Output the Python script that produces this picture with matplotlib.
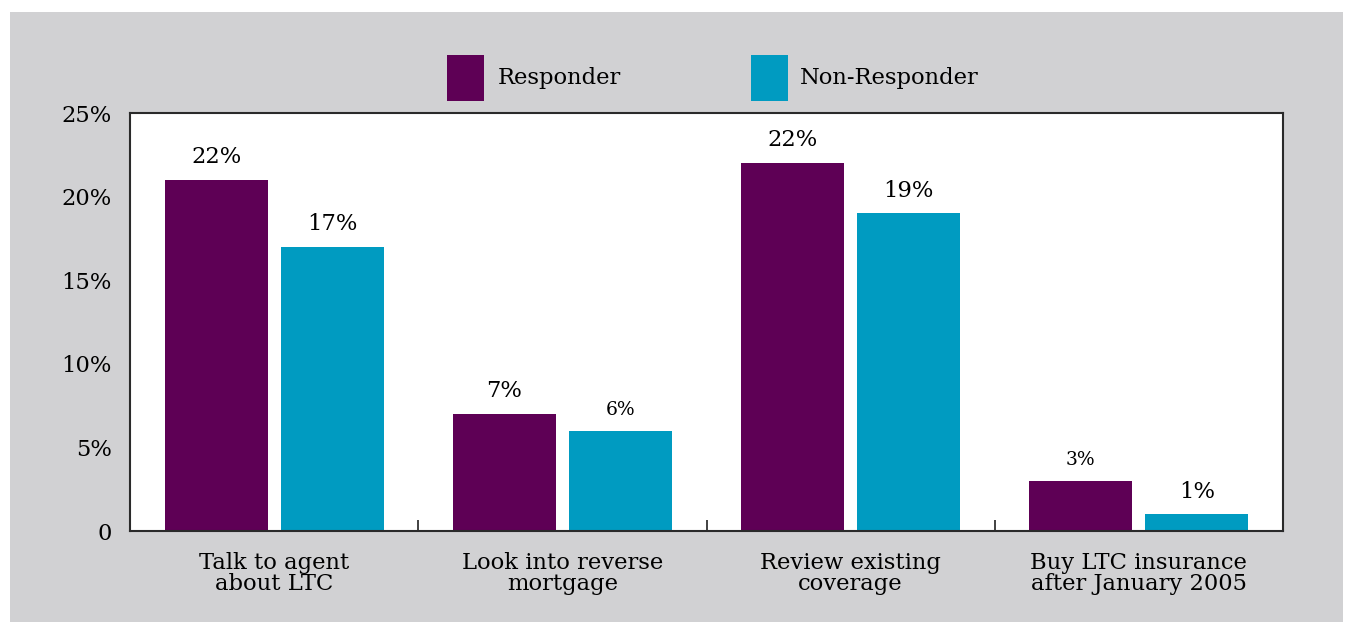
import numpy as np
import matplotlib.pyplot as plt
from matplotlib.patches import Rectangle

# данные
categories = ['Talk to agent\nabout LTC', 'Look into reverse\nmortgage',
              'Review existing\ncoverage', 'Buy LTC insurance\nafter January 2005']
responder = [21, 7, 22, 3]
non_responder = [17, 6, 19, 1]
responder_labels = ['22%', '7%', '22%', '3%']
non_responder_labels = ['17%', '6%', '19%', '1%']
yticks = [0, 5, 10, 15, 20, 25]
ytick_labels = ['0', '5%', '10%', '15%', '20%', '25%']

purple = '#5E0055'
teal = '#009BC1'
gray = '#D1D1D3'

plt.rcParams['font.family'] = ['DejaVu Serif']

fig = plt.figure(figsize=(13.53, 6.24), dpi=100)
fig.patch.set_facecolor('white')
# серая подложка
fig.patches.append(Rectangle((10 / 1353, 2 / 624), 1333 / 1353, 610 / 624,
                             transform=fig.transFigure, facecolor=gray,
                             edgecolor='none', zorder=-10))

ax = fig.add_axes([130 / 1353, 1 - 531 / 624, 1153 / 1353, 418 / 624])
ax.set_facecolor('white')

x = np.arange(len(categories))
w = 0.357
off = 0.201
ax.bar(x - off, responder, w, color=purple)
ax.bar(x + off, non_responder, w, color=teal)

big = 16.3
small = 13.5
for i in range(len(x)):
    s = small if responder_labels[i] in ('3%',) else big
    ax.text(x[i] - off, responder[i] + 0.7, responder_labels[i], ha='center',
            va='bottom', fontsize=s)
    s = small if non_responder_labels[i] in ('6%',) else big
    ax.text(x[i] + off, non_responder[i] + 0.7, non_responder_labels[i], ha='center',
            va='bottom', fontsize=s)

ax.set_xlim(-0.5, 3.5)
ax.set_ylim(0, 25)
ax.set_yticks(yticks)
ax.set_yticklabels(ytick_labels, fontsize=big)
ax.tick_params(axis='y', length=0, pad=13)
ax.set_xticks(x)
ax.set_xticklabels(categories, fontsize=big, linespacing=0.98)
ax.tick_params(axis='x', which='major', length=0, pad=15)
ax.set_xticks([0.5, 1.5, 2.5], minor=True)
ax.tick_params(axis='x', which='minor', direction='in', length=8, width=1.3, color='#333333')
for sp in ax.spines.values():
    sp.set_linewidth(1.5)
    sp.set_color('#2a2a2a')

# легенда
fig.patches.append(Rectangle((447 / 1353, 1 - 101 / 624), 37 / 1353, 46 / 624,
                             transform=fig.transFigure, facecolor=purple, edgecolor='none'))
fig.text(498 / 1353, 1 - 78 / 624, 'Responder', fontsize=big, va='center')
fig.patches.append(Rectangle((751 / 1353, 1 - 101 / 624), 37 / 1353, 46 / 624,
                             transform=fig.transFigure, facecolor=teal, edgecolor='none'))
fig.text(800 / 1353, 1 - 78 / 624, 'Non-Responder', fontsize=big, va='center')

plt.savefig('out.png', dpi=100)
